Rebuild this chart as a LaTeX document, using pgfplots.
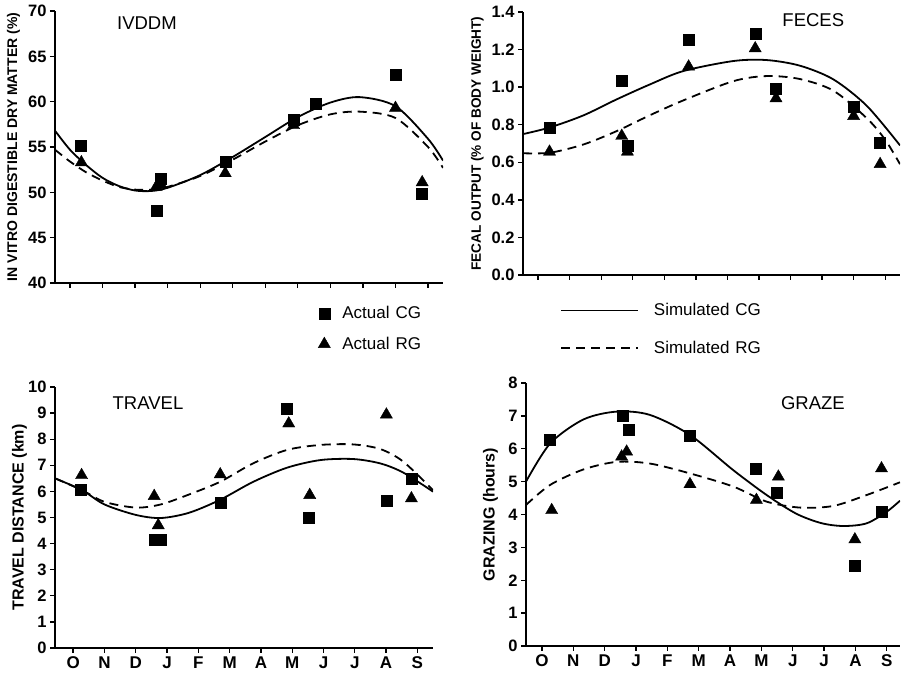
\documentclass[border=0pt]{standalone}
\usepackage{fontspec}
\setmainfont{Liberation Sans}
\usepackage{pgfplots}
\pgfplotsset{compat=1.18}

\pgfplotsset{
  panel/.style={
    scale only axis,
    axis lines=left,
    axis line style={line width=1.6pt, -},
    tick align=outside,
    major tick length=5pt,
    tick style={line width=1.3pt, black},
    xtick={0,...,11},
    yticklabel style={font=\fontsize{16.5}{18}\selectfont\bfseries},
    xticklabel style={font=\fontsize{17}{19}\selectfont\bfseries},
    /pgf/number format/assume math mode=true,
    ylabel style={font=\fontsize{16}{18}\selectfont\bfseries, anchor=center},
  },
  months/.style={xticklabels={O,N,D,J,F,M,A,M,J,J,A,S}},
  nomonths/.style={xticklabels={}},
  cg/.style={only marks, mark=square*, mark size=5.5pt, black},
  rg/.style={only marks, mark=triangle*, mark size=7pt, black},
  simcg/.style={smooth, line width=1.8pt, black, no markers},
  simrg/.style={smooth, line width=1.8pt, black, dash pattern=on 9pt off 6pt, no markers},
}
\tikzset{ttl/.style={font=\fontsize{18.5}{20}\selectfont}}

\begin{document}
\begin{tikzpicture}
\path[use as bounding box] (0,0) rectangle (902pt,674pt);

% IVDDM
\begin{axis}[panel, nomonths,
  at={(55pt,391pt)}, anchor=south west, width=388pt, height=272pt,
  xmin=-0.46, xmax=11.46, ymin=40, ymax=70, ytick={40,45,...,70},
  ylabel={IN VITRO DIGESTIBLE DRY MATTER (\%)},
  ylabel style={at={(axis description cs:-0.107,0.5)}, font=\fontsize{14}{16}\selectfont\bfseries},
  legend style={at={(axis description cs:0.678,-0.078)}, anchor=north west, draw=none, fill=none,
    inner xsep=0pt, inner ysep=0pt, row sep=13pt, column sep=10pt,
    font=\fontsize{17}{19}\selectfont},
  legend cell align=left,
]
\addplot[simcg, forget plot] coordinates {
 (-0.46,56.8) (0,54.7) (0.5,53.0) (1,51.6) (1.5,50.7) (2,50.2) (2.5,50.15) (3,50.5)
 (4,51.9) (5,53.9) (6,56.1) (7,58.3) (8,59.9) (8.9,60.5) (10,59.5) (11,55.9) (11.46,53.5)};
\addplot[simrg, forget plot] coordinates {
 (-0.46,54.7) (0,53.4) (0.5,52.2) (1,51.3) (1.5,50.6) (2,50.3) (2.5,50.3) (3,50.6)
 (4,51.8) (5,53.6) (6,55.6) (7,57.4) (8,58.6) (8.9,58.9) (10,58.2) (11,55.0) (11.46,52.7)};
\addplot[cg] coordinates {
 (0.34,55.1) (2.65,48.0) (2.80,51.5) (4.77,53.4) (6.87,58.0) (7.54,59.8) (10.0,63.0) (10.82,49.8)};
\addlegendentry{Actual\hspace{0.35em}CG}
\addplot[rg] coordinates {
 (0.35,53.3) (2.65,50.6) (2.80,50.8) (4.77,52.1) (6.87,57.4) (10.0,59.3) (10.82,51.1)};
\addlegendentry{Actual\hspace{0.35em}RG}
\node[ttl] at (axis description cs:0.237,0.955) {IVDDM};
\end{axis}

% FECES
\begin{axis}[panel, nomonths,
  at={(523pt,399pt)}, anchor=south west, width=377pt, height=263pt,
  xmin=-0.48, xmax=11.47, ymin=0, ymax=1.4, ytick={0,0.2,...,1.4},
  yticklabel style={/pgf/number format/.cd, fixed, fixed zerofill, precision=1},
  ylabel={FECAL OUTPUT (\% OF BODY WEIGHT)},
  ylabel style={at={(axis description cs:-0.121,0.5)}, font=\fontsize{13.6}{15}\selectfont\bfseries},
  legend style={at={(axis description cs:0.098,-0.10)}, anchor=north west, draw=none, fill=none,
    inner xsep=0pt, inner ysep=0pt, row sep=20pt, column sep=13pt,
    font=\fontsize{17}{19}\selectfont},
  legend cell align=left,
  legend image code/.code={\draw[#1] (0pt,0pt) -- (77pt,0pt);},
]
\addplot[simcg] coordinates {
 (-0.48,0.75) (0.38,0.786) (1.44,0.85) (2.49,0.935) (3.55,1.015) (4.61,1.086)
 (6.19,1.139) (7.25,1.144) (8.3,1.114) (9.36,1.041) (10.42,0.90) (11.47,0.69)};
\addlegendentry{Simulated\hspace{0.35em}CG}
\addplot[simrg] coordinates {
 (-0.48,0.648) (0.38,0.651) (1.44,0.695) (2.49,0.766) (3.55,0.851) (4.61,0.93)
 (6.19,1.032) (7.25,1.059) (8.3,1.043) (9.36,0.981) (10.42,0.834) (11.0,0.72) (11.47,0.59)};
\addlegendentry{Simulated\hspace{0.35em}RG}
\addplot[cg, forget plot] coordinates {
 (0.38,0.784) (2.65,1.032) (2.83,0.69) (4.77,1.254) (6.88,1.286) (7.54,0.994) (9.99,0.896) (10.84,0.704)};
\addplot[rg, forget plot] coordinates {
 (0.36,0.656) (2.65,0.74) (2.83,0.656) (4.77,1.109) (6.88,1.206) (7.54,0.94) (10.0,0.846) (10.84,0.59)};
\node[ttl] at (axis description cs:0.77,0.97) {FECES};
\end{axis}

% TRAVEL
\begin{axis}[panel, months,
  at={(55pt,26pt)}, anchor=south west, width=378pt, height=261pt,
  xmin=-0.58, xmax=11.5, ymin=0, ymax=10, ytick={0,1,...,10},
  ylabel={TRAVEL DISTANCE (km)},
  ylabel style={at={(axis description cs:-0.094,0.5)}},
]
\addplot[simcg] coordinates {
 (-0.58,6.5) (0.28,6.05) (1,5.5) (2,5.1) (2.8,4.98) (3.7,5.18) (4.7,5.68)
 (5.76,6.37) (6.84,6.91) (7.9,7.2) (8.95,7.24) (9.82,7.07) (10.55,6.72) (11.5,5.99)};
\addplot[simrg] coordinates {
 (-0.58,6.5) (0.28,6.05) (1,5.6) (2,5.38) (2.8,5.5) (3.7,5.88) (4.7,6.37)
 (5.76,7.08) (6.84,7.59) (7.9,7.78) (8.95,7.8) (9.82,7.62) (10.55,7.14) (11.5,6.05)};
\addplot[cg] coordinates {
 (0.25,6.05) (2.6,4.15) (2.8,4.15) (4.7,5.58) (6.84,9.17) (7.53,4.99) (10.01,5.63) (10.81,6.47)};
\addplot[rg] coordinates {
 (0.27,6.62) (2.59,5.82) (2.72,4.7) (4.7,6.65) (6.89,8.6) (7.56,5.86) (10.01,8.94) (10.81,5.73)};
\node[ttl] at (axis description cs:0.246,0.939) {TRAVEL};
\end{axis}

% GRAZE
\begin{axis}[panel, months,
  at={(526pt,28pt)}, anchor=south west, width=374pt, height=263pt,
  xmin=-0.51, xmax=11.42, ymin=0, ymax=8, ytick={0,1,...,8},
  ylabel={GRAZING (hours)},
  ylabel style={at={(axis description cs:-0.095,0.5)}},
]
\addplot[simcg] coordinates {
 (-0.51,5.0) (0.26,6.16) (1.32,6.89) (2.38,7.13) (3.44,7.03) (4.72,6.42)
 (6.1,5.35) (7.17,4.59) (8.1,4.03) (8.9,3.74) (9.61,3.65) (10.35,3.73) (10.99,4.08) (11.42,4.42)};
\addplot[simrg] coordinates {
 (-0.51,4.29) (0.26,4.9) (1.32,5.37) (2.38,5.6) (3.44,5.55) (4.72,5.25)
 (6.1,4.85) (7.17,4.39) (8.23,4.21) (9.29,4.26) (10.35,4.59) (11.42,4.98)};
\addplot[cg] coordinates {
 (0.26,6.27) (2.57,7.02) (2.75,6.59) (4.72,6.41) (6.82,5.4) (7.5,4.66) (9.99,2.44) (10.82,4.1)};
\addplot[rg] coordinates {
 (0.31,4.13) (2.54,5.76) (2.7,5.91) (4.72,4.92) (6.84,4.44) (7.54,5.15) (9.98,3.24) (10.83,5.4)};
\node[ttl] at (axis description cs:0.767,0.924) {GRAZE};
\end{axis}
\end{tikzpicture}
\end{document}
